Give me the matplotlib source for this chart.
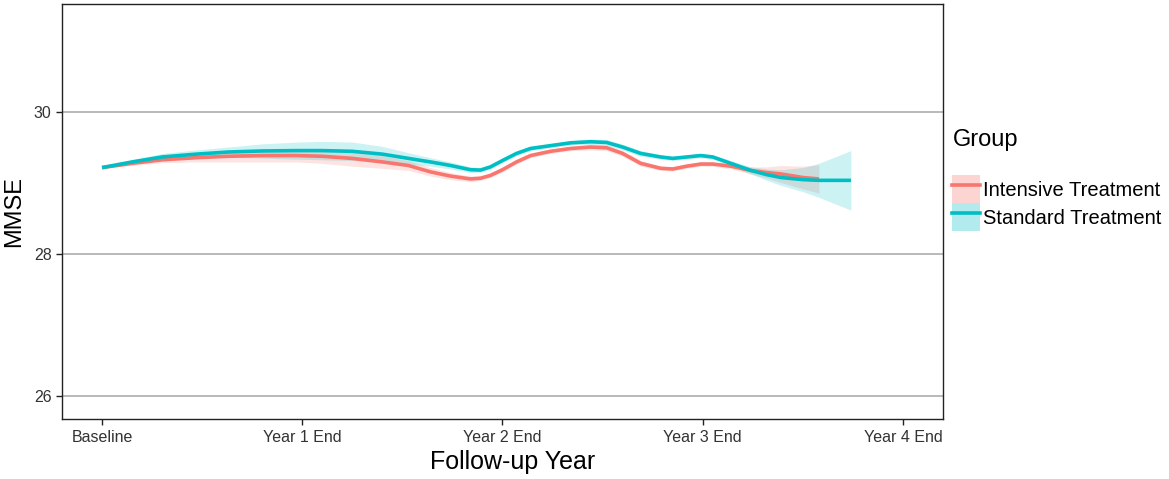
import numpy as np
import matplotlib.pyplot as plt
from matplotlib.patches import Patch
from matplotlib.lines import Line2D

plt.rcParams['font.family'] = ['Liberation Sans', 'DejaVu Sans']

# follow-up years (0 = baseline) and smoothed MMSE
tick_pos = [0, 1, 2, 3, 4]
tick_labels = ['Baseline', 'Year 1 End', 'Year 2 End', 'Year 3 End', 'Year 4 End']

std_x = [0.0, 0.15, 0.30, 0.47, 0.63, 0.80, 0.97, 1.10, 1.25, 1.40,
         1.53, 1.64, 1.74, 1.84, 1.89, 1.94, 2.00, 2.07, 2.14, 2.24,
         2.34, 2.44, 2.52, 2.60, 2.69, 2.79, 2.85, 2.92, 2.99, 3.05,
         3.14, 3.24, 3.32, 3.39, 3.50, 3.58, 3.66, 3.74]
std_y = [29.22, 29.30, 29.37, 29.41, 29.44, 29.455, 29.46, 29.46, 29.45, 29.41,
         29.35, 29.30, 29.25, 29.19, 29.185, 29.23, 29.32, 29.42, 29.49, 29.53,
         29.57, 29.585, 29.575, 29.51, 29.42, 29.37, 29.35, 29.37, 29.39, 29.37,
         29.28, 29.18, 29.12, 29.08, 29.05, 29.04, 29.04, 29.04]
std_hw = [0.01, 0.03, 0.05, 0.06, 0.07, 0.10, 0.12, 0.13, 0.13, 0.11,
          0.08, 0.06, 0.05, 0.04, 0.03, 0.03, 0.03, 0.03, 0.03, 0.03,
          0.03, 0.04, 0.04, 0.04, 0.04, 0.03, 0.03, 0.03, 0.03, 0.03,
          0.04, 0.05, 0.08, 0.11, 0.17, 0.24, 0.33, 0.42]

int_x = [0.0, 0.15, 0.30, 0.47, 0.63, 0.80, 0.97, 1.10, 1.25, 1.40,
         1.53, 1.64, 1.74, 1.84, 1.89, 1.94, 2.00, 2.07, 2.14, 2.24,
         2.34, 2.44, 2.52, 2.60, 2.69, 2.79, 2.85, 2.92, 2.99, 3.05,
         3.14, 3.24, 3.32, 3.39, 3.50, 3.58]
int_y = [29.22, 29.28, 29.33, 29.36, 29.38, 29.39, 29.39, 29.38, 29.35, 29.30,
         29.25, 29.16, 29.10, 29.06, 29.07, 29.11, 29.19, 29.30, 29.39, 29.45,
         29.49, 29.51, 29.50, 29.42, 29.28, 29.21, 29.20, 29.24, 29.27, 29.27,
         29.24, 29.18, 29.15, 29.13, 29.08, 29.06]
int_hw = [0.01, 0.03, 0.04, 0.06, 0.08, 0.09, 0.09, 0.10, 0.11, 0.09,
          0.07, 0.06, 0.05, 0.04, 0.03, 0.03, 0.03, 0.03, 0.03, 0.03,
          0.03, 0.04, 0.04, 0.04, 0.04, 0.03, 0.03, 0.03, 0.03, 0.03,
          0.04, 0.05, 0.08, 0.12, 0.16, 0.20]

red = '#F8766D'
teal = '#00BFC4'

fig = plt.figure(figsize=(11.69, 4.79), dpi=100)
ax = fig.add_axes([0.053, 0.1253, 0.7537, 0.8663])

for x, y, hw, c in [(int_x, int_y, int_hw, red), (std_x, std_y, std_hw, teal)]:
    x = np.array(x)
    y = np.array(y)
    hw = np.array(hw)
    ax.fill_between(x, y - hw, y + hw, color=c, alpha=0.2, lw=0, zorder=2)
for x, y, c in [(int_x, int_y, red), (std_x, std_y, teal)]:
    ax.plot(x, y, color=c, lw=2.6, zorder=3, solid_capstyle='butt',
            solid_joinstyle='round')

ax.set_xlim(-0.2, 4.2)
ax.set_ylim(25.67, 31.53)
ax.set_yticks([26, 28, 30])
ax.set_xticks(tick_pos)
ax.set_xticklabels(tick_labels)
ax.grid(axis='y', color='#b3b3b3', lw=1.3, zorder=0)
for t in tick_pos:
    ax.axvline(t, color='white', lw=1.2, zorder=1)

for s in ax.spines.values():
    s.set_color('#222222')
    s.set_linewidth(1.0)
ax.tick_params(axis='both', direction='out', length=4, width=1, color='#222222',
               labelsize=11.5, labelcolor='#333333')
ax.tick_params(axis='x', pad=4)

ax.set_xlabel('Follow-up Year', fontsize=18, labelpad=5)
ax.xaxis.set_label_coords(0.512, -0.075)
ax.set_ylabel('MMSE', fontsize=17, labelpad=6)

# legend: title as separate text, keys are filled squares with a line
fig.text(953 / 1169, 1 - 146 / 479, 'Group', fontsize=17, va='baseline', ha='left')
handles = [(Patch(facecolor=red, alpha=0.3, lw=0), Line2D([], [], color=red, lw=2.6)),
           (Patch(facecolor=teal, alpha=0.3, lw=0), Line2D([], [], color=teal, lw=2.6))]
fig.legend(handles, ['Intensive Treatment', 'Standard Treatment'],
           loc='upper left', bbox_to_anchor=(952 / 1169, 1 - 175 / 479),
           frameon=False, fontsize=14.5, borderpad=0,
           handlelength=1.39, handleheight=1.77, handletextpad=0.15,
           labelspacing=0.0, borderaxespad=0)

fig.savefig('out.png', dpi=100)
